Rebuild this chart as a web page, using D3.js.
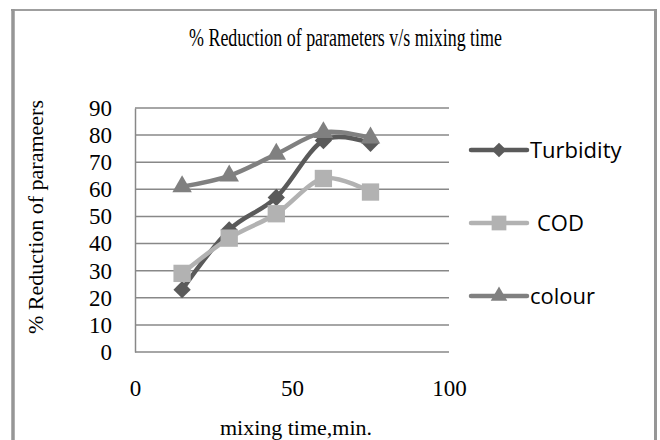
<!DOCTYPE html>
<html>
<head>
<meta charset="utf-8">
<script src="https://cdn.jsdelivr.net/npm/d3@7"></script>
<style>
  body { margin: 0; background: #fff; }
  .tick-label { font-family: "Liberation Serif", "DejaVu Serif", serif; font-size: 23px; fill: #000; }
  .axis-title { font-family: "Liberation Serif", "DejaVu Serif", serif; font-size: 22px; fill: #000; }
  .legend-text { font-family: "Open Sans", "Liberation Sans", sans-serif; font-size: 22px; fill: #000; }
</style>
</head>
<body>
<svg id="chart"></svg>
<script>
// data
const mixingTime = [15, 30, 45, 60, 75];
const turbidity = [23, 45, 57, 78, 77];
const cod = [29, 42, 51, 64, 59];
const colour = [61, 65, 73, 81, 79];
const yTicks = [0, 10, 20, 30, 40, 50, 60, 70, 80, 90];
const xTicks = [0, 50, 100];
const seriesNames = ["Turbidity", "COD", "colour"];

const width = 660;
const height = 440;
const plot = {left: 135, right: 449, top: 108, bottom: 352};

const svg = d3.select("#chart")
    .attr("width", width)
    .attr("height", height);

const x = d3.scaleLinear().domain([0, 100]).range([plot.left, plot.right]);
const y = d3.scaleLinear().domain([0, 90]).range([plot.bottom, plot.top]);

// outer frame
svg.append("line").attr("x1", 11).attr("x2", 657).attr("y1", 10).attr("y2", 10)
    .attr("stroke", "#7f7f7f").attr("stroke-width", 1.5);
svg.append("line").attr("x1", 13).attr("x2", 13).attr("y1", 9).attr("y2", height)
    .attr("stroke", "#969696").attr("stroke-width", 3.5);
svg.append("line").attr("x1", 655.5).attr("x2", 655.5).attr("y1", 9).attr("y2", height)
    .attr("stroke", "#969696").attr("stroke-width", 3);

// title (condensed serif, as in the source)
svg.append("text")
    .attr("x", 189)
    .attr("y", 46)
    .attr("textLength", 313)
    .attr("lengthAdjust", "spacingAndGlyphs")
    .style("font-family", "'Liberation Serif', serif")
    .style("font-size", "26px")
    .text("% Reduction of parameters v/s mixing time");

// gridlines
svg.append("g")
    .selectAll("line")
    .data(yTicks)
    .join("line")
    .attr("x1", plot.left)
    .attr("x2", plot.right)
    .attr("y1", d => y(d))
    .attr("y2", d => y(d))
    .attr("stroke", "#888")
    .attr("stroke-width", 1.5);

// y axis
const yAxis = svg.append("g")
    .attr("transform", `translate(${plot.left},0)`)
    .call(d3.axisLeft(y).tickValues(yTicks).tickSize(0).tickPadding(23));
yAxis.select(".domain").attr("stroke", "#888").attr("stroke-width", 1.5);
yAxis.selectAll("text").attr("class", "tick-label").attr("fill", "#000");

// x axis labels (no line)
const xAxis = svg.append("g")
    .attr("transform", `translate(0,${plot.bottom})`)
    .call(d3.axisBottom(x).tickValues(xTicks).tickSize(0).tickPadding(28));
xAxis.select(".domain").remove();
xAxis.selectAll("text").attr("class", "tick-label").attr("fill", "#000");

// axis titles
svg.append("text")
    .attr("class", "axis-title")
    .attr("x", 296)
    .attr("y", 435)
    .attr("text-anchor", "middle")
    .text("mixing time,min.");

svg.append("text")
    .attr("class", "axis-title")
    .attr("transform", "translate(43,217) rotate(-90)")
    .attr("text-anchor", "middle")
    .text("% Reduction of parameers");

// series
const series = [
    {name: seriesNames[0], values: turbidity, color: "#5a5a5a", symbol: "diamond"},
    {name: seriesNames[1], values: cod, color: "#b2b2b2", symbol: "square"},
    {name: seriesNames[2], values: colour, color: "#808080", symbol: "triangle"}
];

const symbolPath = {
    diamond: d3.symbol().type(d3.symbolSquare).size(150)(),
    square: d3.symbol().type(d3.symbolSquare).size(300)(),
    triangle: d3.symbol().type(d3.symbolTriangle).size(165)()
};
const symbolRotate = {diamond: 45, square: 0, triangle: 0};

const line = d3.line()
    .x((d, i) => x(mixingTime[i]))
    .y(d => y(d))
    .curve(d3.curveCardinal.tension(0));

series.forEach(s => {
    const g = svg.append("g");
    g.append("path")
        .attr("d", line(s.values))
        .attr("fill", "none")
        .attr("stroke", s.color)
        .attr("stroke-width", 4.5)
        .attr("stroke-linejoin", "round");
    g.selectAll("path.marker")
        .data(s.values)
        .join("path")
        .attr("class", "marker")
        .attr("d", symbolPath[s.symbol])
        .attr("transform", (d, i) => `translate(${x(mixingTime[i])},${y(d)}) rotate(${symbolRotate[s.symbol]})`)
        .attr("fill", s.color);
});

// legend
const legendY = [150, 223, 296];
const legend = svg.append("g");
series.forEach((s, i) => {
    const g = legend.append("g").attr("transform", `translate(0,${legendY[i]})`);
    g.append("line")
        .attr("x1", 471).attr("x2", 527)
        .attr("stroke", s.color).attr("stroke-width", 4.5)
        .attr("stroke-linecap", "round");
    g.append("path")
        .attr("d", symbolPath[s.symbol])
        .attr("transform", `translate(499,0) rotate(${symbolRotate[s.symbol]}) scale(0.85)`)
        .attr("fill", s.color);
    g.append("text")
        .attr("class", "legend-text")
        .attr("x", s.name === "COD" ? 537 : 530)
        .attr("dy", "0.35em")
        .text(s.name);
});
</script>
</body>
</html>
